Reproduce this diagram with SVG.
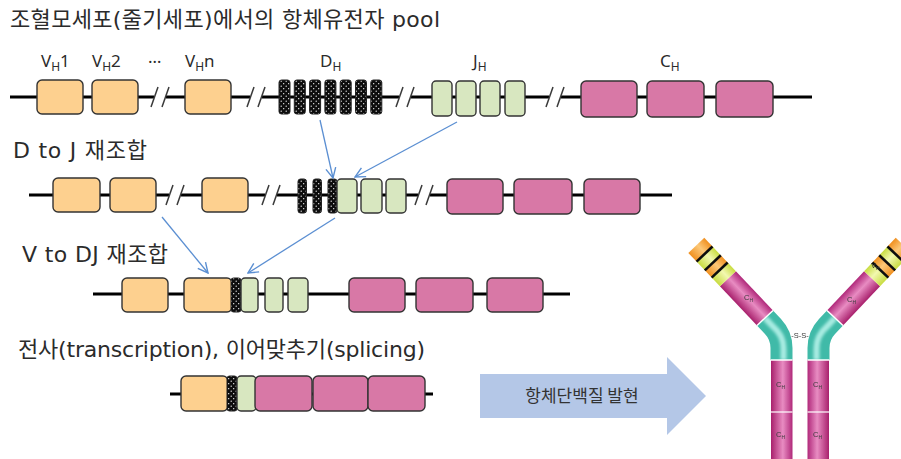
<svg xmlns="http://www.w3.org/2000/svg" xmlns:xlink="http://www.w3.org/1999/xlink" width="901" height="459" viewBox="0 0 901 459">
  <style>
    .lbl { font-family: "DejaVu Sans", "Noto Sans CJK KR", sans-serif; font-size: 22px; fill: #2b2b2b; }
    .seg { font-family: "Noto Sans", sans-serif; font-size: 17px; fill: #2b2b2b; }
    .tiny { font-family: "Liberation Sans", sans-serif; font-size: 7.5px; fill: #3a3a3a; }
    .dna { stroke: #000; stroke-width: 3; fill: none; }
    .v { fill: #fdd08f; stroke: #333; stroke-width: 1.4; }
    .j { fill: #d8e7c0; stroke: #333; stroke-width: 1.4; }
    .c { fill: #d878a6; stroke: #333; stroke-width: 1.4; }
    .d { fill: url(#dots); stroke: #222; stroke-width: 1; }
    .conn { stroke: #5b8fd2; stroke-width: 1.3; fill: none; marker-end: url(#openArrow); }
  </style>
  <defs>
    <!-- speckled fill for D segments -->
    <pattern id="dots" width="5" height="5" patternUnits="userSpaceOnUse">
      <rect width="5" height="5" fill="#0d0d0d"/>
      <circle cx="1.2" cy="1.2" r="0.65" fill="#fff"/>
      <circle cx="3.7" cy="3.7" r="0.65" fill="#fff"/>
    </pattern>
    <marker id="openArrow" viewBox="0 0 12 12" refX="11" refY="6" markerWidth="12" markerHeight="12" markerUnits="userSpaceOnUse" orient="auto">
      <path d="M1,1 L11,6 L1,11" fill="none" stroke="#5b8fd2" stroke-width="1.4"/>
    </marker>
    <!-- "//" break on a chromosome line -->
    <g id="brk">
      <rect x="-6" y="-3" width="12" height="6" fill="#fff"/>
      <line x1="-9" y1="10" x2="-2" y2="-10" stroke="#3a3a3a" stroke-width="1.5"/>
      <line x1="2" y1="10" x2="9" y2="-10" stroke="#3a3a3a" stroke-width="1.5"/>
    </g>
    <!-- antibody shading -->
    <linearGradient id="gMag" x1="0" y1="0" x2="0" y2="1">
      <stop offset="0" stop-color="#a8206c"/>
      <stop offset="0.55" stop-color="#e88cc2"/>
      <stop offset="1" stop-color="#b0287a"/>
    </linearGradient>
    <linearGradient id="gMagH" x1="0" y1="0" x2="1" y2="0">
      <stop offset="0" stop-color="#a8206c"/>
      <stop offset="0.55" stop-color="#e88cc2"/>
      <stop offset="1" stop-color="#b0287a"/>
    </linearGradient>
    <linearGradient id="gYel" x1="0" y1="0" x2="0" y2="1">
      <stop offset="0" stop-color="#c8dc40"/>
      <stop offset="0.55" stop-color="#f2f8b0"/>
      <stop offset="1" stop-color="#c8dc40"/>
    </linearGradient>
    <linearGradient id="gOra" x1="0" y1="0" x2="0" y2="1">
      <stop offset="0" stop-color="#f09020"/>
      <stop offset="0.55" stop-color="#fcc878"/>
      <stop offset="1" stop-color="#f09020"/>
    </linearGradient>
    <filter id="soft" x="-10%" y="-10%" width="120%" height="120%">
      <feGaussianBlur stdDeviation="0.5"/>
    </filter>
    <filter id="glow" x="-50%" y="-50%" width="200%" height="200%">
      <feGaussianBlur stdDeviation="1.5"/>
    </filter>
    <!-- one heavy chain: hinge, arm and tail -->
    <g id="abHalf">
      <path d="M765,318 L773,326.5 Q781.5,335.5 781.5,348 L781.5,360" fill="none" stroke="#40baa8" stroke-width="22"/>
      <path d="M765,318 L773,326.5 Q783.5,335.5 783.5,348 L783.5,360" fill="none" stroke="#a8ece2" stroke-width="6" filter="url(#glow)"/>
      <rect x="771" y="360" width="21.5" height="105" fill="url(#gMagH)"/>
      <line x1="770.5" y1="360" x2="792.5" y2="360" stroke="#fff" stroke-width="1.5"/>
      <line x1="770.5" y1="412" x2="792.5" y2="412" stroke="#fff" stroke-width="1.2"/>
      <g transform="translate(765,318) rotate(-133.4)">
        <rect x="0" y="-11" width="54" height="22" fill="url(#gMag)"/>
        <rect x="54" y="-11" width="12" height="22" fill="url(#gYel)"/>
        <rect x="66" y="-11" width="10" height="22" fill="url(#gOra)"/>
        <rect x="76" y="-11" width="12" height="22" fill="url(#gYel)"/>
        <rect x="88" y="-11" width="12" height="22" fill="url(#gOra)"/>
        <line x1="66" y1="-11" x2="66" y2="11" stroke="#111" stroke-width="2.6"/>
        <line x1="76" y1="-11" x2="76" y2="11" stroke="#111" stroke-width="2.6"/>
        <line x1="88" y1="-11" x2="88" y2="11" stroke="#111" stroke-width="2.6"/>
        <line x1="0" y1="-11" x2="0" y2="11" stroke="#fff" stroke-width="1.5"/>
      </g>
    </g>
  </defs>

  <rect width="901" height="459" fill="#fff"/>

  <!-- section titles -->
  <text class="lbl" x="10" y="27" textLength="430" lengthAdjust="spacing">조혈모세포(줄기세포)에서의 항체유전자 pool</text>
  <text class="lbl" x="13" y="158" textLength="134" lengthAdjust="spacing">D to J 재조합</text>
  <text class="lbl" x="22" y="262" textLength="146" lengthAdjust="spacing">V to DJ 재조합</text>
  <text class="lbl" x="18" y="357" textLength="407" lengthAdjust="spacing">전사(transcription), 이어맞추기(splicing)</text>

  <!-- germline locus -->
  <g id="germline">
    <line class="dna" x1="10" y1="97" x2="812" y2="97"/>
    <text class="seg" x="41" y="67">V<tspan dy="4" font-size="12">H</tspan><tspan dy="-4">1</tspan></text>
    <text class="seg" x="92" y="67">V<tspan dy="4" font-size="12">H</tspan><tspan dy="-4">2</tspan></text>
    <text class="seg" x="148" y="63" font-size="12">…</text>
    <text class="seg" x="185" y="67">V<tspan dy="4" font-size="12">H</tspan><tspan dy="-4">n</tspan></text>
    <text class="seg" x="320" y="67">D<tspan dy="4" font-size="12">H</tspan></text>
    <text class="seg" x="473" y="67">J<tspan dy="4" font-size="12">H</tspan></text>
    <text class="seg" x="660" y="67">C<tspan dy="4" font-size="12">H</tspan></text>
    <rect class="v" x="37" y="80" width="46" height="34" rx="5"/>
    <rect class="v" x="92" y="80" width="46" height="34" rx="5"/>
    <use href="#brk" x="160" y="97"/>
    <rect class="v" x="185" y="80" width="46" height="34" rx="5"/>
    <use href="#brk" x="256" y="97"/>
    <rect class="d" x="279" y="80" width="11" height="34" rx="2.5"/>
    <rect class="d" x="294.3" y="80" width="11" height="34" rx="2.5"/>
    <rect class="d" x="309.6" y="80" width="11" height="34" rx="2.5"/>
    <rect class="d" x="324.9" y="80" width="11" height="34" rx="2.5"/>
    <rect class="d" x="340.2" y="80" width="11" height="34" rx="2.5"/>
    <rect class="d" x="355.5" y="80" width="11" height="34" rx="2.5"/>
    <rect class="d" x="370.8" y="80" width="11" height="34" rx="2.5"/>
    <use href="#brk" x="405" y="97"/>
    <rect class="j" x="432" y="81" width="20" height="35" rx="4"/>
    <rect class="j" x="456" y="81" width="20" height="35" rx="4"/>
    <rect class="j" x="480" y="81" width="20" height="35" rx="4"/>
    <rect class="j" x="505" y="81" width="20" height="35" rx="4"/>
    <use href="#brk" x="555" y="97"/>
    <rect class="c" x="581" y="81" width="56" height="36" rx="5"/>
    <rect class="c" x="647" y="81" width="57" height="36" rx="5"/>
    <rect class="c" x="716" y="81" width="57" height="36" rx="5"/>
  </g>

  <!-- after D-J joining -->
  <g id="dj">
    <line class="dna" x1="29" y1="195" x2="672" y2="195"/>
    <rect class="v" x="53" y="178" width="47" height="34" rx="5"/>
    <rect class="v" x="110" y="178" width="46" height="34" rx="5"/>
    <use href="#brk" x="175" y="195"/>
    <rect class="v" x="202" y="178" width="46" height="34" rx="5"/>
    <use href="#brk" x="271" y="195"/>
    <rect class="d" x="298" y="179" width="8.5" height="34" rx="2.5"/>
    <rect class="d" x="313" y="179" width="8.5" height="34" rx="2.5"/>
    <rect class="d" x="328" y="179" width="9" height="34" rx="2.5"/>
    <rect class="j" x="337" y="179" width="20" height="34" rx="4"/>
    <rect class="j" x="361" y="179" width="21" height="34" rx="4"/>
    <rect class="j" x="386" y="179" width="20" height="34" rx="4"/>
    <use href="#brk" x="424" y="195"/>
    <rect class="c" x="447" y="179" width="56" height="35" rx="5"/>
    <rect class="c" x="514" y="179" width="58" height="35" rx="5"/>
    <rect class="c" x="584" y="179" width="56" height="35" rx="5"/>
  </g>

  <!-- after V-DJ joining -->
  <g id="vdj">
    <line class="dna" x1="93" y1="294" x2="570" y2="294"/>
    <rect class="v" x="122" y="278" width="46" height="34" rx="5"/>
    <rect class="v" x="184" y="278" width="48" height="34" rx="5"/>
    <rect class="d" x="231" y="278" width="10" height="34" rx="2.5"/>
    <rect class="j" x="241" y="278" width="17" height="34" rx="4"/>
    <rect class="j" x="265" y="278" width="18" height="34" rx="4"/>
    <rect class="j" x="288" y="278" width="20" height="34" rx="4"/>
    <rect class="c" x="349" y="278" width="56" height="34" rx="5"/>
    <rect class="c" x="416" y="278" width="57" height="34" rx="5"/>
    <rect class="c" x="487" y="278" width="56" height="34" rx="5"/>
  </g>

  <!-- spliced transcript -->
  <g id="mrna">
    <line class="dna" x1="170" y1="394" x2="433" y2="394"/>
    <rect class="v" x="181" y="376" width="47" height="35" rx="5"/>
    <rect class="d" x="227" y="376" width="10" height="35" rx="2.5"/>
    <rect class="j" x="237" y="376" width="19" height="35" rx="4"/>
    <rect class="c" x="255" y="376" width="57" height="35" rx="5"/>
    <rect class="c" x="313" y="376" width="55" height="35" rx="5"/>
    <rect class="c" x="368" y="376" width="57" height="35" rx="5"/>
  </g>

  <!-- recombination arrows -->
  <g id="connectors">
    <line class="conn" x1="320" y1="120" x2="333" y2="178"/>
    <line class="conn" x1="457" y1="122" x2="355" y2="177"/>
    <line class="conn" x1="162" y1="217" x2="208" y2="273"/>
    <line class="conn" x1="335" y1="218" x2="248" y2="273"/>
  </g>

  <!-- expression arrow -->
  <g id="expression">
    <polygon points="480,374 667,374 667,357 706,396 667,435 667,418 480,418" fill="#b4c7e7"/>
    <text x="582" y="402" text-anchor="middle" font-family="Noto Sans CJK KR, sans-serif" font-size="17" fill="#333">항체단백질 발현</text>
  </g>

  <!-- antibody -->
  <g id="antibody" filter="url(#soft)">
    <use href="#abHalf"/>
    <use href="#abHalf" transform="translate(1600,0) scale(-1,1)"/>
    <text class="tiny" x="744" y="300">C<tspan font-size="5" dy="1.5">H</tspan></text>
    <text class="tiny" x="847" y="302">C<tspan font-size="5" dy="1.5">H</tspan></text>
    <text class="tiny" x="871" y="268">V<tspan font-size="5" dy="1.5">H</tspan></text>
    <text class="tiny" x="776" y="387">C<tspan font-size="5" dy="1.5">H</tspan></text>
    <text class="tiny" x="813" y="387">C<tspan font-size="5" dy="1.5">H</tspan></text>
    <text class="tiny" x="776" y="437">C<tspan font-size="5" dy="1.5">H</tspan></text>
    <text class="tiny" x="813" y="437">C<tspan font-size="5" dy="1.5">H</tspan></text>
    <text class="tiny" x="800" y="338" text-anchor="middle" font-size="5" fill="#777">-S-S-</text>
  </g>
</svg>
